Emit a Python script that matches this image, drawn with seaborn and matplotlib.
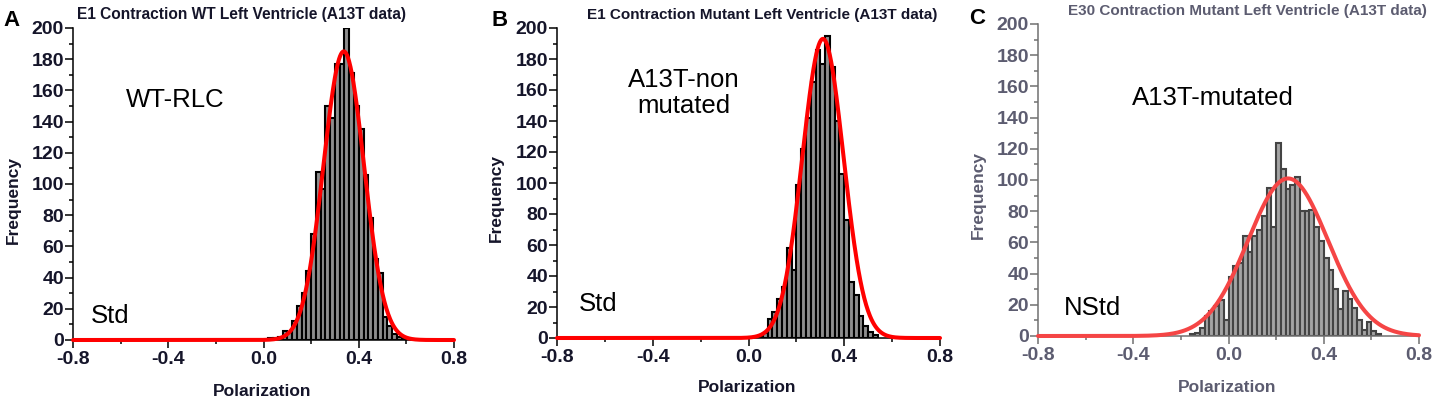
import numpy as np
import pandas as pd
import seaborn as sns
import matplotlib.pyplot as plt
from matplotlib.ticker import MultipleLocator

# histogram bars (bin width 0.02)
bin_w = 0.02

a_centers = [0.03, 0.05, 0.07, 0.09, 0.11, 0.13, 0.15, 0.17, 0.19, 0.21, 0.23, 0.25,
             0.27, 0.29, 0.31, 0.33, 0.35, 0.37, 0.39, 0.41, 0.43, 0.45, 0.47, 0.49,
             0.51, 0.53, 0.55, 0.57, 0.59]
a_counts = [1, 1, 2, 6, 5, 12, 22, 30, 44, 68, 108, 97,
            150, 142, 177, 177, 200, 171, 150, 135, 106, 78, 52, 43,
            15, 9, 4, 2, 1]

b_centers = [0.05, 0.07, 0.09, 0.11, 0.13, 0.15, 0.17, 0.19, 0.21, 0.23, 0.25, 0.27,
             0.29, 0.31, 0.33, 0.35, 0.37, 0.39, 0.41, 0.43, 0.45, 0.47, 0.49, 0.51,
             0.53]
b_counts = [1, 3, 12, 17, 25, 33, 58, 44, 99, 122, 142, 165,
            186, 177, 195, 175, 140, 106, 76, 36, 28, 14, 8, 4,
            2]

c_centers = [-0.15, -0.13, -0.11, -0.09, -0.07, -0.05, -0.03, -0.01, 0.01, 0.03,
             0.05, 0.07, 0.09, 0.11, 0.13, 0.15, 0.17, 0.19, 0.21, 0.23,
             0.25, 0.27, 0.29, 0.31, 0.33, 0.35, 0.37, 0.39, 0.41, 0.43,
             0.45, 0.47, 0.49, 0.51, 0.53, 0.55, 0.57, 0.59, 0.61, 0.63]
c_counts = [1, 2, 5, 13, 16, 19, 23, 10, 38, 45,
            47, 64, 54, 64, 68, 77, 95, 70, 124, 107,
            94, 97, 102, 80, 80, 81, 70, 61, 50, 42,
            30, 17, 29, 24, 18, 10, 4, 9, 3, 1]

# gaussian fit parameters
fit_mu = [0.337, 0.311, 0.25]
fit_sigma = [0.085, 0.086, 0.168]
fit_peak = [185, 193, 101]

titles = ["E1 Contraction WT Left Ventricle (A13T data)",
          "E1 Contraction Mutant Left Ventricle (A13T data)",
          "E30 Contraction Mutant Left Ventricle (A13T data)"]
letters = ["A", "B", "C"]
notes = ["WT-RLC", "A13T-non\nmutated", "A13T-mutated"]
std_notes = ["Std", "Std", "NStd"]

x_ticks = [-0.8, -0.4, 0.0, 0.4, 0.8]
x_ticklabels = ["-0.8", "-0.4", "0.0", "0.4", "0.8"]
y_ticks = [0, 20, 40, 60, 80, 100, 120, 140, 160, 180, 200]

W, H = 1437, 403


def px(x, y):
    return x / W, 1 - y / H


sns.set_style("ticks")
plt.rcParams['font.family'] = ['Liberation Sans', 'DejaVu Sans']
plt.rcParams['font.weight'] = 'bold'
plt.rcParams['xtick.labelsize'] = 14
plt.rcParams['ytick.labelsize'] = 14

fig = plt.figure(figsize=(W / 100, H / 100), dpi=100)

# axes boxes in pixels: x of -0.8, x of 0.8, y of 0, y of 200
boxes = [(73, 454, 340, 28), (557, 940, 338, 28), (1038, 1419, 336, 24)]
text_col = ["#15152a", "#15152a", "#5c5c70"]
spine_col = ["black", "black", "#707070"]
bar_face = ["#8e8e8e", "#8e8e8e", "#a4a4a4"]
bar_edge = ["black", "black", "#444444"]
line_col = ["#ff0000", "#ff0000", "#f54545"]

title_pos = [(77, 15), (587, 15), (1068, 11)]
title_size = [11.2, 11.0, 11.0]
letter_pos = [(12, 20), (500, 20), (977, 19)]
note_pos = [(175, 100), (684, 93), (1213, 98)]
std_pos = [(110, 316), (598, 304), (1093, 308)]
xlab_pos = [(262, 391), (747, 388), (1227, 387)]
ylab_pos = [(13, 200), (496, 198), (978, 195)]

data = [(a_centers, a_counts), (b_centers, b_counts), (c_centers, c_counts)]

for i, (centers, counts) in enumerate(data):
    x0, x1, y0, y1 = boxes[i]
    ax = fig.add_axes([x0 / W, 1 - y0 / H, (x1 - x0) / W, (y0 - y1) / H])
    df = pd.DataFrame({"pol": centers, "freq": counts})
    lo = float(centers[0] - bin_w / 2)
    hi = float(centers[-1] + bin_w / 2)
    sns.histplot(data=df, x="pol", weights="freq", binwidth=bin_w, binrange=(lo, hi),
                 ax=ax, color=bar_face[i], edgecolor=bar_edge[i], linewidth=1.5, alpha=1)

    xs = np.linspace(-0.8, 0.8, 800)
    ys = fit_peak[i] * np.exp(-0.5 * ((xs - fit_mu[i]) / fit_sigma[i]) ** 2)
    sns.lineplot(x=xs, y=ys, ax=ax, color=line_col[i], linewidth=2.9,
                 estimator=None, sort=False, clip_on=False, zorder=5)

    ax.set_xlabel("")
    ax.set_ylabel("")
    ax.set_xticks(x_ticks)
    ax.set_xticklabels(x_ticklabels)
    ax.set_yticks(y_ticks)
    ax.set_yticklabels([str(v) for v in y_ticks])
    ax.xaxis.set_minor_locator(MultipleLocator(0.2))
    ax.yaxis.set_minor_locator(MultipleLocator(10))
    ax.set_xlim(-0.8, 0.8)
    ax.set_ylim(0, 200)
    for s in ["top", "right"]:
        ax.spines[s].set_visible(False)
    for s in ["left", "bottom"]:
        ax.spines[s].set_color(spine_col[i])
        ax.spines[s].set_linewidth(1.1)
    ax.tick_params(which="major", length=5.5, width=1.1, color=spine_col[i],
                   labelcolor=text_col[i], pad=1.0)
    ax.tick_params(which="minor", length=3, width=1.1, color=spine_col[i])
    ax.tick_params(axis="x", pad=2.5)
    ax.patch.set_alpha(0)

    fig.text(*px(*title_pos[i]), titles[i], fontsize=title_size[i], fontweight="bold",
             color=text_col[i], ha="left", va="center")
    fig.text(*px(*letter_pos[i]), letters[i], fontsize=16, fontweight="bold",
             color="black", ha="center", va="center")
    fig.text(*px(*note_pos[i]), notes[i], fontsize=18.5, fontweight="normal",
             color="black", ha="center", va="center", linespacing=1.1)
    fig.text(*px(*std_pos[i]), std_notes[i], fontsize=18.5, fontweight="normal",
             color="black", ha="center", va="center")
    fig.text(*px(*xlab_pos[i]), "Polarization", fontsize=12.5, fontweight="bold",
             color=text_col[i], ha="center", va="center")
    fig.text(*px(*ylab_pos[i]), "Frequency", fontsize=12.5, fontweight="bold",
             color=text_col[i], ha="center", va="center", rotation=90)

fig.savefig("out.png", dpi=100)
